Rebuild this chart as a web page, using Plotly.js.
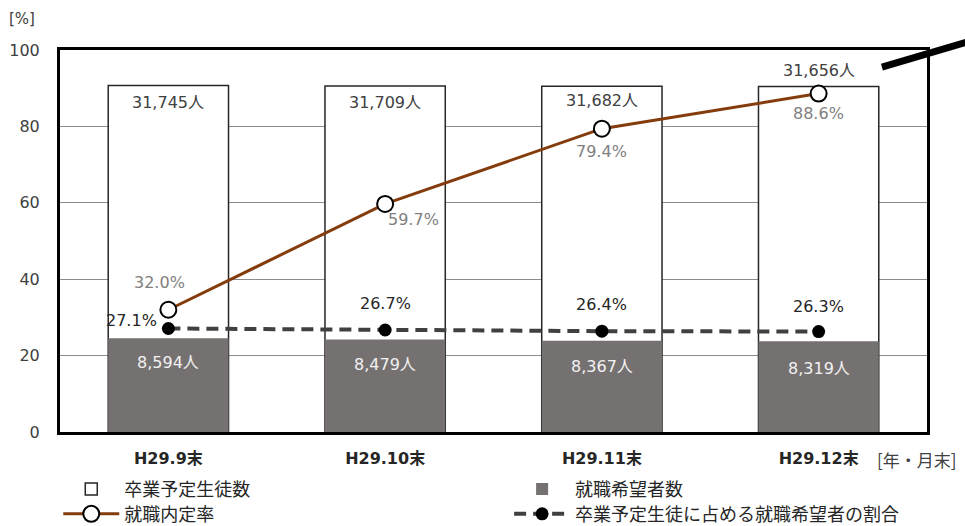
<!DOCTYPE html>
<html>
<head>
<meta charset="utf-8">
<script src="https://cdn.plot.ly/plotly-3.0.1.min.js"></script>
<style>html,body{margin:0;padding:0;background:#fff;}#chart{width:965px;height:526px;}</style>
</head>
<body>
<div id="chart"></div>
<script>
// ---- data ----
const categories = ['H29.9末', 'H29.10末', 'H29.11末', 'H29.12末'];
const graduates = [31745, 31709, 31682, 31656];      // 卒業予定生徒数
const jobSeekers = [8594, 8479, 8367, 8319];         // 就職希望者数
const offerRate = [32.0, 59.7, 79.4, 88.6];          // 就職内定率 (%)
const seekerShare = [27.1, 26.7, 26.4, 26.3];        // 卒業予定生徒に占める就職希望者の割合 (%)
const yTicks = [0, 20, 40, 60, 80, 100];

// ---- label offsets (px) ----
const gradLabelShift = [-17, -17, -14, 16];
const seekLabelShift = [-24, -25, -26, -27];
const rateShift = [[-9, 27], [28, -16], [0, -23], [0, -20]];
const shareShift = [[-37, 8], [0, 27], [0, 27], [0, 25]];

const FONT = '"Noto Sans CJK JP", "Noto Sans", sans-serif';
const NUMFONT = '"DejaVu Sans", "Noto Sans CJK JP", sans-serif';
const fmt = v => v.toLocaleString('en-US');

const traces = [
  {
    type: 'bar', name: '卒業予定生徒数', x: categories, y: graduates,
    yaxis: 'y', width: 0.555,
    marker: {color: '#ffffff', line: {color: '#262626', width: 1.5}},
    legend: 'legend', hoverinfo: 'skip'
  },
  {
    type: 'bar', name: '就職希望者数', x: categories, y: jobSeekers,
    yaxis: 'y', width: 0.555,
    marker: {color: '#767171', line: {color: '#767171', width: 0}},
    legend: 'legend2', hoverinfo: 'skip'
  },
  {
    type: 'scatter', mode: 'lines+markers', name: '就職内定率', x: categories, y: offerRate,
    yaxis: 'y2',
    line: {color: '#843C0C', width: 3},
    marker: {symbol: 'circle', size: 16, color: '#ffffff', line: {color: '#000000', width: 2}},
    legend: 'legend3', hoverinfo: 'skip'
  },
  {
    type: 'scatter', mode: 'lines+markers', name: '卒業予定生徒に占める就職希望者の割合', x: categories, y: seekerShare,
    yaxis: 'y2',
    line: {color: '#404040', width: 4, dash: '12px,7px'},
    marker: {symbol: 'circle', size: 13, color: '#000000'},
    legend: 'legend4', hoverinfo: 'skip'
  }
];

const annotations = [];
categories.forEach((c, i) => {
  annotations.push({x: c, y: graduates[i], xref: 'x', yref: 'y', text: fmt(graduates[i]) + '人',
    showarrow: false, yshift: gradLabelShift[i], font: {family: NUMFONT, size: 16, color: '#404040'}});
  annotations.push({x: c, y: jobSeekers[i], xref: 'x', yref: 'y', text: fmt(jobSeekers[i]) + '人',
    showarrow: false, yshift: seekLabelShift[i], font: {family: NUMFONT, size: 16, color: '#f2f2f2'}});
  annotations.push({x: c, y: offerRate[i], xref: 'x', yref: 'y2', text: offerRate[i].toFixed(1) + '%',
    showarrow: false, xshift: rateShift[i][0], yshift: rateShift[i][1], font: {family: NUMFONT, size: 16, color: '#7f7f7f'}});
  annotations.push({x: c, y: seekerShare[i], xref: 'x', yref: 'y2', text: seekerShare[i].toFixed(1) + '%',
    showarrow: false, xshift: shareShift[i][0], yshift: shareShift[i][1], font: {family: NUMFONT, size: 16, color: '#262626'}});
});
annotations.push({x: -0.044, y: 1.08, xref: 'paper', yref: 'paper', text: '[%]', showarrow: false,
  xanchor: 'center', yanchor: 'middle', font: {family: NUMFONT, size: 15, color: '#404040'}});
annotations.push({x: 0.988, y: -0.0707, xref: 'paper', yref: 'paper', text: '[年・月末]', showarrow: false,
  xanchor: 'center', yanchor: 'middle', font: {family: FONT, size: 17, color: '#404040'}});

const legendBase = (x, y) => ({
  orientation: 'h', x: x, xanchor: 'left', y: y, yanchor: 'middle',
  itemwidth: 56, font: {family: FONT, size: 18, color: '#262626'},
  bgcolor: 'rgba(0,0,0,0)', borderwidth: 0
});

const layout = {
  width: 965, height: 526,
  margin: {l: 60, r: 38, t: 50, b: 94, autoexpand: false},
  paper_bgcolor: '#ffffff', plot_bgcolor: '#ffffff',
  font: {family: FONT, color: '#404040'},
  barmode: 'overlay',
  showlegend: true,
  xaxis: {
    type: 'category', range: [-0.5, 3.5],
    showline: true, mirror: true, linecolor: '#000000', linewidth: 3,
    ticks: '', ticklabelstandoff: 10,
    tickfont: {family: NUMFONT, size: 16, color: '#262626', weight: 'bold'},
    showgrid: false, fixedrange: true
  },
  yaxis: {
    range: [0, 35000], showticklabels: false, showgrid: false, zeroline: false,
    ticks: '', showline: false, fixedrange: true
  },
  yaxis2: {
    overlaying: 'y', side: 'left', anchor: 'x',
    range: [0, 100], tickvals: yTicks, ticktext: yTicks.map(String),
    showgrid: true, gridcolor: '#8c8c8c', gridwidth: 1, zeroline: false,
    showline: true, mirror: true, linecolor: '#000000', linewidth: 3,
    ticks: '', ticklabelstandoff: 14,
    tickfont: {family: NUMFONT, size: 16, color: '#404040'}, fixedrange: true
  },
  legend: legendBase(-0.002, -0.150),
  legend2: legendBase(0.518, -0.150),
  legend3: legendBase(-0.002, -0.215),
  legend4: legendBase(0.518, -0.215),
  annotations: annotations,
  shapes: [{
    type: 'line', xref: 'paper', yref: 'paper',
    x0: 0.948, y0: 0.955, x1: 1.06, y1: 1.03,
    line: {color: '#000000', width: 7}
  }]
};

Plotly.newPlot('chart', traces, layout, {displayModeBar: false, staticPlot: true});
</script>
</body>
</html>
